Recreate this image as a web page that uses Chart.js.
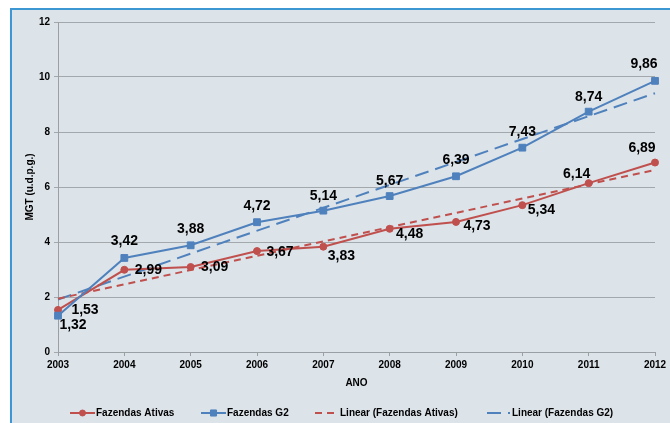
<!DOCTYPE html>
<html>
<head>
<meta charset="utf-8">
<script src="https://cdn.jsdelivr.net/npm/chart.js@4.4.1/dist/chart.umd.min.js"></script>
<style>
  html, body { margin: 0; padding: 0; background: #fff; }
  #wrap { width: 670px; height: 423px; }
</style>
</head>
<body>
<div id="wrap"><canvas id="myChart" width="670" height="423"></canvas></div>
<script>
// data
const years = ['2003', '2004', '2005', '2006', '2007', '2008', '2009', '2010', '2011', '2012'];
const ativas = [1.53, 2.99, 3.09, 3.67, 3.83, 4.48, 4.73, 5.34, 6.14, 6.89];
const g2 = [1.32, 3.42, 3.88, 4.72, 5.14, 5.67, 6.39, 7.43, 8.74, 9.86];
// trend lines: value at first and last year
const trendAtivasEnds = [1.94, 6.62];
const trendG2Ends = [1.91, 9.41];
const yTicks = [0, 2, 4, 6, 8, 10, 12];

const red = '#C0504D';
const blue = '#4F81BD';
const font = 'Liberation Sans, Arial, sans-serif';

function endsToSeries(ends) {
  return years.map((y, i) => i === 0 ? ends[0] : (i === years.length - 1 ? ends[1] : null));
}

// label offsets from the point (label centre)
const labelOffsets = [
  [[27, 0], [24, 0], [24, 0], [23, 1], [18, 9], [20, 5], [21, 4], [19, 5], [-12, -9], [-13, -14]],
  [[15, 9], [0, -17], [0, -16], [0, -16], [0, -15], [0, -15], [0, -16], [0, -16], [0, -15], [-11, -17]]
];

const background = {
  id: 'background',
  beforeDraw(chart) {
    const ctx = chart.ctx;
    ctx.save();
    ctx.fillStyle = '#ffffff';
    ctx.fillRect(0, 0, chart.width, chart.height);
    ctx.fillStyle = '#DCE3E9';
    ctx.fillRect(11, 9, chart.width - 11, chart.height - 9);
    ctx.strokeStyle = '#3D97D3';
    ctx.lineWidth = 2;
    ctx.beginPath();
    ctx.moveTo(11, chart.height);
    ctx.lineTo(11, 9);
    ctx.lineTo(chart.width, 9);
    ctx.stroke();
    ctx.restore();
  }
};

const valueLabels = {
  id: 'valueLabels',
  afterDatasetsDraw(chart) {
    const ctx = chart.ctx;
    ctx.save();
    ctx.font = 'bold 14px ' + font;
    ctx.fillStyle = '#000';
    ctx.textAlign = 'center';
    ctx.textBaseline = 'middle';
    [0, 1].forEach(di => {
      const meta = chart.getDatasetMeta(di);
      const vals = chart.data.datasets[di].data;
      meta.data.forEach((pt, i) => {
        const off = labelOffsets[di][i];
        ctx.fillText(vals[i].toFixed(2).replace('.', ','), pt.x + off[0], pt.y + off[1]);
      });
    });
    ctx.restore();
  }
};

const customLegend = {
  id: 'customLegend',
  afterDraw(chart) {
    const ctx = chart.ctx;
    const y = 413;
    const items = [
      { ds: 0, x0: 70, x1: 95, tx: 96 },
      { ds: 1, x0: 201, x1: 226, tx: 227 },
      { ds: 2, x0: 315, x1: 336, tx: 340 },
      { ds: 3, x0: 487, x1: 510, tx: 512 }
    ];
    ctx.save();
    items.forEach(it => {
      const d = chart.data.datasets[it.ds];
      ctx.strokeStyle = d.borderColor;
      ctx.lineWidth = 2;
      ctx.setLineDash(d.borderDash || []);
      ctx.beginPath();
      ctx.moveTo(it.x0, y);
      ctx.lineTo(it.x1, y);
      ctx.stroke();
      ctx.setLineDash([]);
      if (d.pointRadius > 0) {
        ctx.fillStyle = d.backgroundColor;
        ctx.strokeStyle = d.borderColor;
        ctx.lineWidth = 1;
        Chart.helpers.drawPoint(ctx, {
          pointStyle: d.pointStyle, radius: d.pointRadius - 0.5, borderWidth: 1
        }, (it.x0 + it.x1) / 2, y);
      }
      ctx.fillStyle = '#000';
      ctx.font = 'bold 10px ' + font;
      ctx.textAlign = 'left';
      ctx.textBaseline = 'middle';
      ctx.fillText(d.label, it.tx, y);
    });
    ctx.restore();
  }
};

Chart.defaults.font.family = font;

const chart1 = new Chart('myChart', {
  type: 'line',
  data: {
    labels: years,
    datasets: [{
      label: 'Fazendas Ativas',
      data: ativas,
      borderColor: red,
      backgroundColor: red,
      borderWidth: 2,
      pointStyle: 'circle',
      pointRadius: 3.5,
      pointBorderWidth: 1,
      order: 2
    }, {
      label: 'Fazendas G2',
      data: g2,
      borderColor: blue,
      backgroundColor: blue,
      borderWidth: 2,
      pointStyle: 'rect',
      pointRadius: 4.8,
      pointBorderWidth: 1,
      order: 1
    }, {
      label: 'Linear (Fazendas Ativas)',
      data: endsToSeries(trendAtivasEnds),
      borderColor: red,
      borderWidth: 2,
      borderDash: [7, 5],
      pointRadius: 0,
      spanGaps: true,
      order: 3
    }, {
      label: 'Linear (Fazendas G2)',
      data: endsToSeries(trendG2Ends),
      borderColor: blue,
      borderWidth: 2,
      borderDash: [14, 7],
      pointRadius: 0,
      spanGaps: true,
      order: 4
    }]
  },
  options: {
    responsive: false,
    animation: false,
    layout: { padding: { left: 14, right: 15, top: 22, bottom: 34 } },
    plugins: {
      legend: { display: false },
      tooltip: { enabled: false }
    },
    scales: {
      x: {
        offset: false,
        grid: { display: true, drawOnChartArea: false, drawTicks: true, tickLength: 4, color: '#9A9FA4' },
        border: { color: '#9A9FA4', width: 1 },
        ticks: { color: '#000', font: { size: 10, weight: 'bold' }, padding: 3, maxRotation: 0, autoSkip: false },
        title: { display: true, text: 'ANO', color: '#000', font: { size: 10, weight: 'bold' }, padding: { top: 3, bottom: 0 } }
      },
      y: {
        min: 0,
        max: 12,
        afterBuildTicks(scale) { scale.ticks = yTicks.map(v => ({ value: v })); },
        afterFit(scale) { scale.width = 44; },
        grid: { color: '#A3A8AC', lineWidth: 1, tickLength: 4 },
        border: { color: '#9A9FA4', width: 1 },
        ticks: { color: '#000', font: { size: 10, weight: 'bold' }, padding: 4 },
        title: { display: true, text: 'MGT (u.d.p.g.)', color: '#000', font: { size: 10, weight: 'bold' }, padding: { top: 10, bottom: 0 } }
      }
    }
  },
  plugins: [background, valueLabels, customLegend]
});
</script>
</body>
</html>
